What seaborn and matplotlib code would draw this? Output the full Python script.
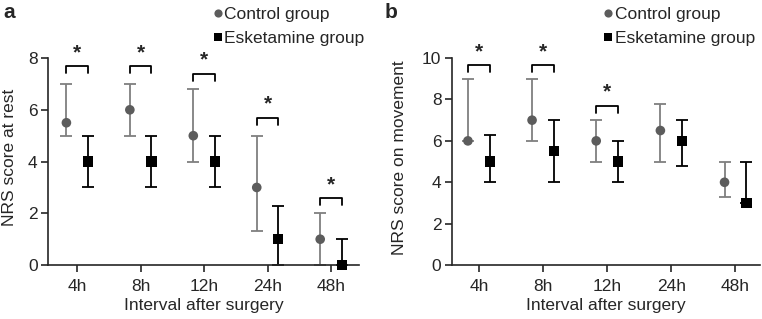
import matplotlib
matplotlib.use("Agg")
import matplotlib.pyplot as plt
import seaborn as sns
import pandas as pd
import numpy as np

intervals = ["4h", "8h", "12h", "24h", "48h"]

# panel a - NRS at rest
rest_ctrl = [5.5, 6, 5, 3, 1]
rest_ctrl_lo = [5, 5, 4, 1.3, 0]
rest_ctrl_hi = [7, 7, 6.8, 5, 2]
rest_esk = [4, 4, 4, 1, 0]
rest_esk_lo = [3, 3, 3, 0, 0]
rest_esk_hi = [5, 5, 5, 2.3, 1]
rest_bracket = [7.7, 7.7, 7.4, 5.7, 2.6]

# panel b - NRS on movement
mov_ctrl = [6, 7, 6, 6.5, 4]
mov_ctrl_lo = [6, 6, 5, 5, 3.3]
mov_ctrl_hi = [9, 9, 7, 7.8, 5]
mov_esk = [5, 5.5, 5, 6, 3]
mov_esk_lo = [4, 4, 4, 4.8, 3]
mov_esk_hi = [6.3, 7, 6, 7, 5]
mov_bracket = [9.66, 9.66, 7.7, None, None]

sns.set_style("ticks")
plt.rcParams["font.family"] = ["Liberation Sans", "DejaVu Sans"]

CTRL_C = "#5c5c5c"
CTRL_ERR = "#7f7f7f"
ESK_C = "#000000"
OFF = 0.17


def panel(ax, ctrl, clo, chi, esk, elo, ehi, brackets, ymax, ylabel, xlim, ylab_x, leg_x):
    x = np.arange(len(intervals))
    df = pd.DataFrame({
        "x": np.concatenate([x - OFF, x + OFF]),
        "y": ctrl + esk,
        "group": ["Control group"] * len(x) + ["Esketamine group"] * len(x),
    })
    ax.errorbar(x - OFF, ctrl,
                yerr=[np.array(ctrl) - np.array(clo), np.array(chi) - np.array(ctrl)],
                fmt="none", ecolor=CTRL_ERR, elinewidth=1.3, capsize=4, capthick=1.3, zorder=2)
    ax.errorbar(x + OFF, esk,
                yerr=[np.array(esk) - np.array(elo), np.array(ehi) - np.array(esk)],
                fmt="none", ecolor=ESK_C, elinewidth=1.3, capsize=4, capthick=1.3, zorder=2)
    sns.scatterplot(data=df, x="x", y="y", hue="group", style="group",
                    palette={"Control group": CTRL_C, "Esketamine group": ESK_C},
                    markers={"Control group": "o", "Esketamine group": "s"},
                    size="group", sizes={"Control group": 48, "Esketamine group": 55},
                    linewidth=0, ax=ax, zorder=3, clip_on=False)
    h = 0.27 * ymax / 8
    for i, b in enumerate(brackets):
        if b is None:
            continue
        ax.plot([i - OFF, i - OFF, i + OFF, i + OFF], [b - h, b, b, b - h],
                color="black", lw=1.3, clip_on=False)
        ax.text(i, b + 0.15 * ymax / 8, "*", ha="center", va="bottom",
                fontsize=15, fontweight="bold", clip_on=False)
    ax.set_xlim(*xlim)
    ax.set_ylim(0, ymax)
    ax.set_xticks(x)
    ax.set_xticklabels(intervals)
    ax.set_yticks(np.arange(0, ymax + 1, 2))
    ax.set_xlabel("Interval after surgery", fontsize=12.5, labelpad=3)
    ax.set_ylabel(ylabel, fontsize=12.5)
    ax.yaxis.set_label_coords(ylab_x, 0.52)
    ax.tick_params(labelsize=12.5, width=1.2, length=5)
    ax.tick_params(axis="x", pad=5)
    ax.tick_params(axis="y", pad=2.5)
    for s in ["left", "bottom"]:
        ax.spines[s].set_linewidth(1.2)
    sns.despine(ax=ax)
    ax.legend(loc="lower left", bbox_to_anchor=(leg_x, 1.024), frameon=False,
              fontsize=12.5, handletextpad=-0.1, labelspacing=0.5,
              borderaxespad=0, handlelength=1.0, markerscale=0.85)


fig = plt.figure(figsize=(7.62, 3.19), dpi=100)
ax1 = fig.add_axes([0.063, 0.169, 0.408, 0.649])
ax2 = fig.add_axes([0.593, 0.169, 0.405, 0.649])

panel(ax1, rest_ctrl, rest_ctrl_lo, rest_ctrl_hi, rest_esk, rest_esk_lo, rest_esk_hi,
      rest_bracket, 8, "NRS score at rest", (-0.46, 4.44), -0.10, 0.495)
panel(ax2, mov_ctrl, mov_ctrl_lo, mov_ctrl_hi, mov_esk, mov_esk_lo, mov_esk_hi,
      mov_bracket, 10, "NRS score on movement", (-0.42, 4.39), -0.146, 0.455)

fig.text(0.005, 0.99, "a", fontsize=15, fontweight="bold", va="top")
fig.text(0.505, 0.99, "b", fontsize=15, fontweight="bold", va="top")

fig.savefig("out.png", dpi=100)
